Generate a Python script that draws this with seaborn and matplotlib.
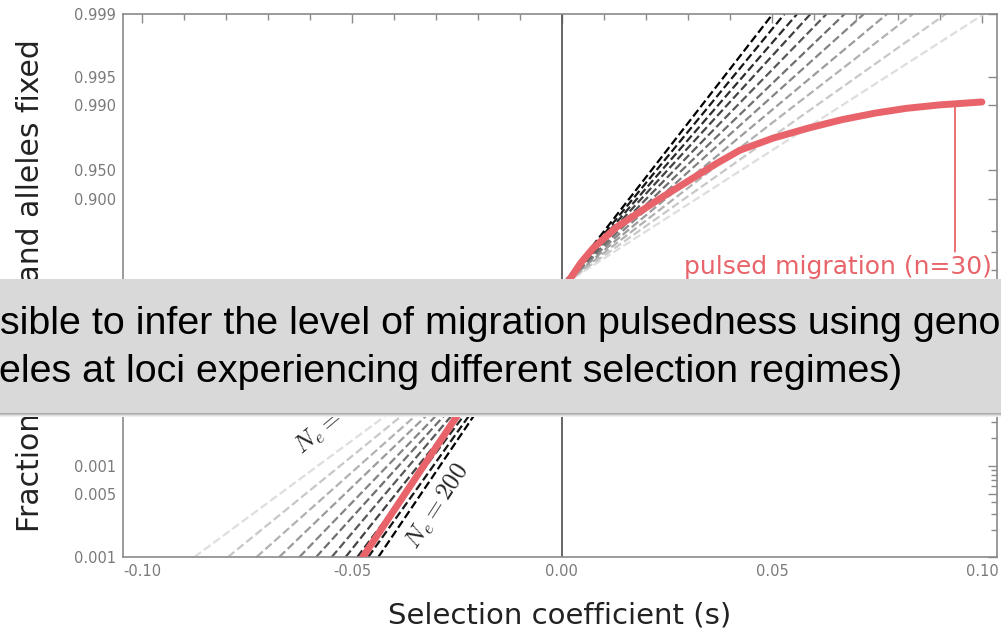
import numpy as np
import pandas as pd
import matplotlib
matplotlib.use("Agg")
import matplotlib.pyplot as plt
import matplotlib.ticker as mticker
from matplotlib.patches import Rectangle
import seaborn as sns

# dashed reference lines, one per effective population size
ne_values = [100, 110, 120, 130, 140, 150, 160, 170, 180, 190, 200]
# selection coefficient where each line leaves the bottom / top of the plot
s_at_bottom = [-0.0875, -0.0795, -0.0727, -0.0673, -0.0625, -0.0585, -0.0548, -0.0515, -0.0487, -0.0461, -0.0437]
s_at_top = [0.1005, 0.0914, 0.0836, 0.0774, 0.0719, 0.0673, 0.0630, 0.0592, 0.0560, 0.0530, 0.0502]
p_bottom, p_mid, p_top = 0.001, 0.5, 0.999

# pulsed migration curve (n=30)
pulsed_s = [-0.0474, -0.0243, 0.0019, 0.0045, 0.0074, 0.0130, 0.0233, 0.0368, 0.0424, 0.0503,
            0.0587, 0.0667, 0.0746, 0.0821, 0.0900, 0.1000]
pulsed_p = [0.001, 0.0388, 0.54, 0.64, 0.72, 0.815, 0.901, 0.957, 0.969, 0.977,
            0.9821, 0.9855, 0.9877, 0.9891, 0.9900, 0.9907]

# axis ticks
xtick_values = [-0.10, -0.05, 0.00, 0.05, 0.10]
xtick_labels = ["-0.10", "-0.05", "0.00", "0.05", "0.10"]
ytick_values = [0.001, 0.005, 0.01, 0.05, 0.1, 0.5, 0.9, 0.95, 0.99, 0.995, 0.999]
ytick_labels = ["0.001", "0.005", "0.001", "0.050", "0.100", "0.500", "0.900", "0.950", "0.990", "0.995", "0.999"]
ytick_minor = [0.002, 0.003, 0.004, 0.006, 0.007, 0.008, 0.009, 0.02, 0.03, 0.04,
               0.06, 0.07, 0.08, 0.09, 0.2, 0.3, 0.4, 0.6, 0.7, 0.8]

red = "#e8646a"
axis_grey = "#8a8a8a"

# long table for seaborn
rows = []
for ne, lo, hi in zip(ne_values, s_at_bottom, s_at_top):
    rows.append({"Ne": ne, "s": lo, "p": p_bottom})
    rows.append({"Ne": ne, "s": 0.0, "p": p_mid})
    rows.append({"Ne": ne, "s": hi, "p": p_top})
lines_df = pd.DataFrame(rows)

sns.set_style("white")
plt.rcParams["mathtext.fontset"] = "cm"
plt.rcParams["axes.unicode_minus"] = False
plt.rcParams["font.family"] = ["DejaVu Sans"]

fig = plt.figure(figsize=(10.01, 6.37), dpi=100)
ax = fig.add_axes([123 / 1001, 80 / 637, 874 / 1001, 543 / 637])

ax.axvline(0, color="#5a5a5a", lw=1.3, zorder=1)

greys = sns.blend_palette(["#dedede", "#000000"], len(ne_values))
sns.lineplot(data=lines_df, x="s", y="p", hue="Ne", palette=greys, linestyle="--",
             lw=1.6, legend=False, estimator=None, sort=False, ax=ax, zorder=2)
sns.lineplot(x=pulsed_s, y=pulsed_p, color=red, lw=5, estimator=None, sort=False,
             ax=ax, zorder=3)

ax.set_yscale("logit")
ax.set_xlim(-0.1045, 0.1036)
ax.set_ylim(0.001, 0.999)

ax.set_xticks(xtick_values)
ax.set_xticklabels(xtick_labels)
ax.set_xticks(np.arange(-0.10, 0.1001, 0.01), minor=True)
ax.set_yticks(ytick_values)
ax.set_yticklabels(ytick_labels)
ax.set_yticks(ytick_minor, minor=True)
ax.yaxis.set_minor_formatter(mticker.NullFormatter())

ax.tick_params(which="both", direction="in", top=True, right=True, color=axis_grey,
               labelcolor="#7a7a7a", labelsize=10.5, width=1)
ax.tick_params(which="major", length=6.5, pad=5)
ax.tick_params(which="minor", length=4)
for sp in ax.spines.values():
    sp.set_color(axis_grey)
    sp.set_linewidth(1.2)

ax.set_xlabel("Selection coefficient (s)", fontsize=21, color="#222222", labelpad=16)
ax.set_ylabel("Fraction of mainland alleles fixed", fontsize=21.5, color="#222222", labelpad=21)

# Ne labels along the dashed lines
ax.text(-0.0610, 0.0118, r"$N_e = 100$", fontsize=18, rotation=40, rotation_mode="anchor",
        ha="left", va="bottom", zorder=4)
ax.text(-0.0296, 0.0036, r"$N_e = 200$", fontsize=18, rotation=57, rotation_mode="anchor",
        ha="center", va="center", zorder=4)

ax.annotate("pulsed migration (n=30)", xy=(0.0936, 0.9902), xytext=(0.1024, 0.573),
            ha="right", va="baseline", fontsize=18, color=red,
            arrowprops=dict(arrowstyle="-", color=red, lw=1.3, relpos=(0.88, 1.0),
                            shrinkA=0, shrinkB=0))

# grey caption banner laid over the plot
banner_bottom = 1 - 413 / 637
banner_top = 1 - 279 / 637
fig.patches.append(Rectangle((0, banner_bottom), 1, banner_top - banner_bottom,
                             transform=fig.transFigure, facecolor="#d9d9d9",
                             edgecolor="none", zorder=10))
for i, shade in enumerate(["#a8a8a8", "#c4c4c4", "#dedede", "#efefef"]):
    fig.patches.append(Rectangle((0, banner_bottom - (i + 1) / 637), 1, 1 / 637,
                                 transform=fig.transFigure, facecolor=shade,
                                 edgecolor="none", zorder=10))
fig.text(0.0, 1 - 333.5 / 637, "sible to infer the level of migration pulsedness using geno",
         fontsize=28.4, family="Liberation Sans", color="black", ha="left", va="baseline", zorder=11)
fig.text(-0.001, 1 - 381.5 / 637, "eles at loci experiencing different selection regimes)",
         fontsize=28.4, family="Liberation Sans", color="black", ha="left", va="baseline", zorder=11)

fig.savefig("out.png", dpi=100)
